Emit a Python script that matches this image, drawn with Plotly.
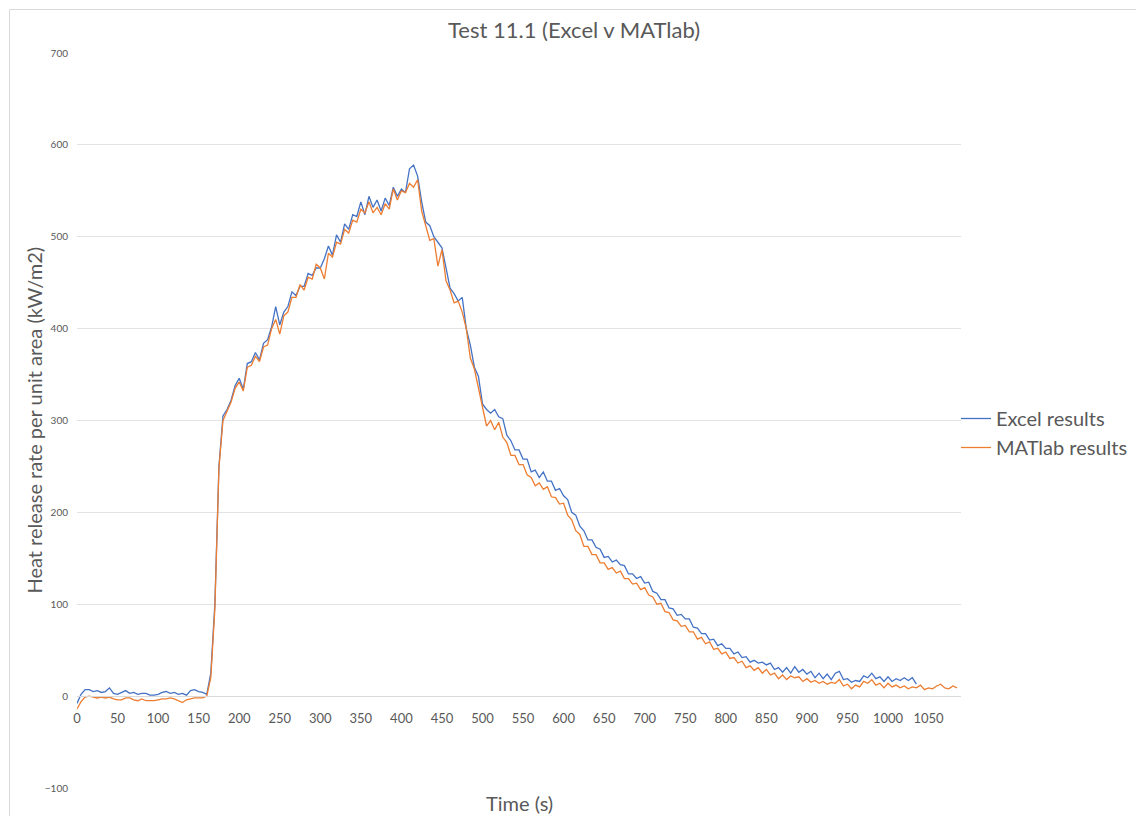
import plotly.graph_objects as go

time = list(range(0, 1086, 5))

excel = [
    -8, 2, 7, 7, 5, 6, 4, 5, 9, 3,
    2, 4, 6, 3, 4, 2, 3, 3, 1, 1,
    2, 4, 5, 3, 4, 2, 3, 1, 6, 7,
    5, 4, 2, 25, 100, 250, 305, 312, 322, 338,
    346, 334, 362, 364, 374, 366, 384, 388, 402, 424,
    404, 418, 424, 440, 436, 446, 446, 460, 458, 466,
    466, 476, 490, 480, 502, 494, 514, 508, 524, 522,
    538, 524, 544, 532, 540, 528, 542, 534, 554, 544,
    552, 548, 574, 578, 566, 538, 516, 512, 500, 494,
    488, 466, 444, 438, 430, 434, 400, 382, 358, 348,
    318, 312, 308, 312, 304, 302, 284, 278, 268, 268,
    258, 258, 244, 246, 238, 244, 234, 234, 224, 226,
    218, 214, 200, 197, 185, 180, 170, 170, 162, 160,
    151, 152, 146, 148, 143, 142, 133, 133, 128, 130,
    123, 124, 114, 112, 105, 105, 96, 95, 88, 89,
    84, 84, 75, 74, 68, 68, 61, 62, 55, 57,
    52, 52, 46, 48, 42, 43, 37, 39, 36, 37,
    34, 36, 29, 31, 26, 31, 25, 32, 26, 29,
    24, 27, 20, 25, 19, 24, 18, 25, 27, 18,
    19, 15, 17, 16, 22, 20, 25, 19, 21, 16,
    21, 16, 19, 17, 20, 17, 20, 13,
]

matlab = [
    -14, -6, -1, 0, -1, -2, -1, -2, -1, -3,
    -4, -4, -2, -2, -4, -5, -3, -5, -5, -5,
    -4, -3, -3, -2, -3, -5, -7, -4, -3, -2,
    -2, -2, 0, 20, 95, 248, 300, 310, 320, 335,
    342, 332, 358, 360, 370, 364, 380, 382, 400, 410,
    394, 414, 418, 434, 434, 448, 442, 456, 454, 470,
    466, 454, 482, 478, 494, 492, 508, 504, 518, 516,
    530, 526, 538, 526, 532, 524, 536, 530, 552, 540,
    550, 548, 558, 554, 562, 528, 512, 496, 498, 468,
    486, 452, 442, 428, 430, 418, 400, 368, 356, 334,
    314, 294, 300, 290, 298, 282, 276, 262, 262, 252,
    252, 241, 238, 229, 232, 225, 228, 217, 216, 209,
    210, 197, 192, 180, 176, 163, 163, 154, 154, 145,
    145, 138, 140, 134, 136, 128, 128, 122, 123, 116,
    118, 110, 108, 100, 101, 92, 91, 83, 82, 76,
    77, 70, 70, 62, 64, 57, 59, 51, 52, 46,
    48, 41, 42, 36, 38, 31, 33, 28, 31, 25,
    29, 23, 25, 19, 23, 18, 22, 20, 21, 16,
    19, 15, 17, 14, 16, 13, 15, 14, 18, 11,
    13, 8, 12, 10, 16, 14, 18, 12, 14, 9,
    14, 10, 12, 9, 11, 8, 10, 9, 12, 7,
    9, 8, 11, 13, 9, 8, 11, 9,
]

x_ticks = list(range(0, 1051, 50))
y_ticks = list(range(-100, 701, 100))

FONT = "Lato"
GREY = "#595959"

fig = go.Figure()
fig.add_trace(go.Scatter(x=time[:len(excel)], y=excel, mode="lines",
                         name="Excel results",
                         line=dict(color="#4472C4", width=1.3)))
fig.add_trace(go.Scatter(x=time[:len(matlab)], y=matlab, mode="lines",
                         name="MATlab results",
                         line=dict(color="#ED7D31", width=1.3)))

L, R, T, B = 77, 175, 53, 28
pw, ph = 1136 - L - R, 816 - T - B
fig.update_layout(
    width=1136, height=816,
    margin=dict(l=L, r=R, t=T, b=B, autoexpand=False),
    paper_bgcolor="white", plot_bgcolor="white",
    font=dict(family=FONT, color=GREY),
    title=dict(text="Test 11.1 (Excel v MATlab)", x=574 / 1136, xanchor="center",
               y=1 - 30 / 816, yanchor="middle", yref="container",
               font=dict(size=22, color=GREY, family=FONT)),
    xaxis=dict(range=[0, 1090], tickvals=x_ticks, showgrid=False, zeroline=False,
               showline=True, linecolor="#D9D9D9", linewidth=1,
               anchor="free", position=100 / 800, ticks="",
               ticklabelstandoff=10,
               tickfont=dict(size=13, color=GREY, family=FONT)),
    yaxis=dict(range=[-100, 700], tickvals=y_ticks, showgrid=True,
               gridcolor="#E3E3E3", gridwidth=1, zeroline=False, ticks="",
               ticklabelstandoff=8,
               tickfont=dict(size=10, color=GREY, family=FONT)),
    legend=dict(x=(956 - L) / pw, xanchor="left", y=(816 - B - 433) / ph, yanchor="middle",
                font=dict(size=20, color=GREY, family=FONT),
                itemwidth=30, tracegroupgap=2, bgcolor="rgba(0,0,0,0)"),
    showlegend=True,
)

fig.add_annotation(text="Heat release rate per unit area (kW/m2)", textangle=-90,
                   xref="paper", yref="paper", x=(33 - L) / pw, y=0.5,
                   xanchor="center", yanchor="middle", showarrow=False,
                   font=dict(size=20, color=GREY, family=FONT))
fig.add_annotation(text="Time (s)", xref="paper", yref="paper",
                   x=0.5, y=-(803 - (816 - B)) / ph, xanchor="center", yanchor="middle",
                   showarrow=False, font=dict(size=20, color=GREY, family=FONT))
# chart-area border (Excel style)
fig.add_shape(type="rect", xref="paper", yref="paper",
              x0=(9.5 - L) / pw, x1=(1150 - L) / pw,
              y0=-(830 - (816 - B)) / ph, y1=((816 - B) - 9.5) / ph,
              line=dict(color="#D9D9D9", width=1), layer="below")

fig.write_html("out.html")
